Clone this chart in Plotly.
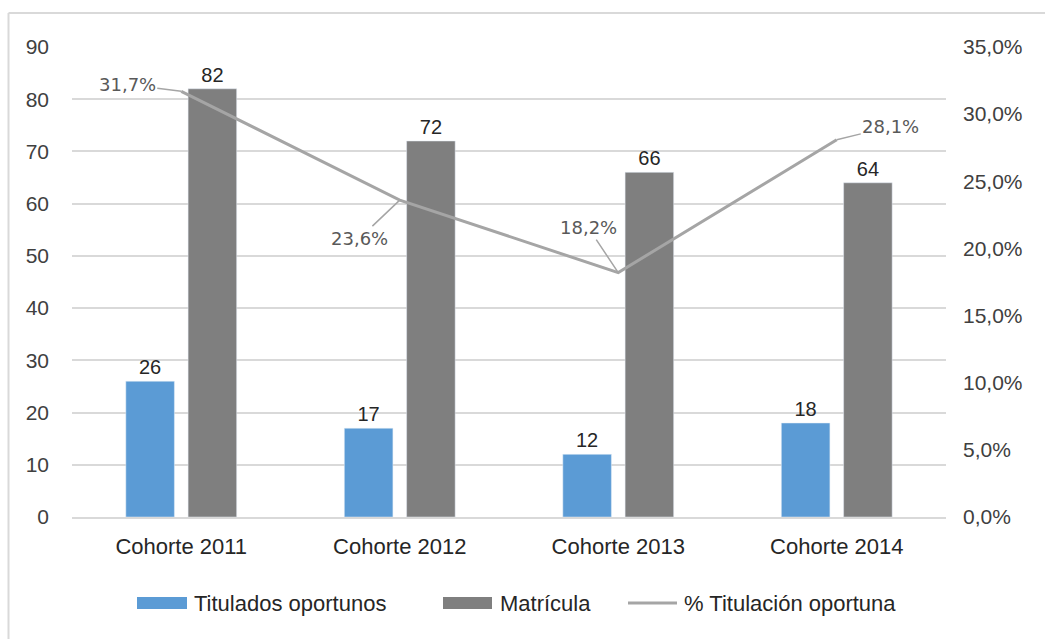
import plotly.graph_objects as go

# Data
categorias = ["Cohorte 2011", "Cohorte 2012", "Cohorte 2013", "Cohorte 2014"]
titulados = [26, 17, 12, 18]
matricula = [82, 72, 66, 64]
pct_titulacion = [0.317, 0.236, 0.182, 0.281]
pct_etiquetas = ["31,7%", "23,6%", "18,2%", "28,1%"]
izq_ticks = list(range(0, 100, 10))
der_ticks = [0, 0.05, 0.10, 0.15, 0.20, 0.25, 0.30, 0.35]
der_etiquetas = ["0,0%", "5,0%", "10,0%", "15,0%", "20,0%", "25,0%", "30,0%", "35,0%"]

AZUL = "#5B9BD5"
GRIS = "#7F7F7F"
LINEA = "#A5A5A5"
TXT = "#404040"
FONT = "Liberation Sans, Arial, sans-serif"

W, H = 1045, 639
L, R, T, B = 72, 99, 47, 122
pw, ph = W - L - R, H - T - B


def px_x(p):
    return (p - L) / pw


def px_y(p):
    return (H - B - p) / ph


fig = go.Figure()

fig.add_trace(go.Bar(
    x=categorias, y=titulados, name="Titulados oportunos",
    marker_color=AZUL, text=titulados, textposition="outside",
    textfont=dict(family=FONT, size=20, color="#262626"), cliponaxis=False,
))
fig.add_trace(go.Bar(
    x=categorias, y=matricula, name="Matrícula",
    marker_color=GRIS, text=matricula, textposition="outside",
    textfont=dict(family=FONT, size=20, color="#262626"), cliponaxis=False,
))
fig.add_trace(go.Scatter(
    x=categorias, y=pct_titulacion, name="% Titulación oportuna",
    mode="lines", line=dict(color=LINEA, width=3), yaxis="y2",
))

# Percentage labels with leader lines
offsets = [(-54, -7), (-40, 38), (-30, -45), (54, -13)]
annotations = []
for cat, v, lab, (ax, ay) in zip(categorias, pct_titulacion, pct_etiquetas, offsets):
    annotations.append(dict(
        x=cat, y=v, xref="x", yref="y2", text=lab, showarrow=True,
        ax=ax, ay=ay, arrowhead=0, arrowwidth=1.5, arrowcolor=LINEA,
        standoff=0, font=dict(family="DejaVu Sans", size=18, color="#595959"),
    ))

# Legend drawn as swatches + text
shapes = []
leg_items = [
    ("rect", AZUL, 137, 187, "Titulados oportunos", 192),
    ("rect", GRIS, 443, 492, "Matrícula", 498),
    ("line", LINEA, 628, 677, "% Titulación oportuna", 682),
]
ly = 603
for kind, col, x0, x1, txt, tx in leg_items:
    if kind == "rect":
        shapes.append(dict(type="rect", xref="paper", yref="paper",
                           x0=px_x(x0), x1=px_x(x1), y0=px_y(ly + 6), y1=px_y(ly - 6),
                           fillcolor=col, line=dict(width=0)))
    else:
        shapes.append(dict(type="line", xref="paper", yref="paper",
                           x0=px_x(x0), x1=px_x(x1), y0=px_y(ly), y1=px_y(ly),
                           line=dict(color=col, width=3)))
    annotations.append(dict(
        x=px_x(tx), y=px_y(ly), xref="paper", yref="paper", text=txt,
        showarrow=False, xanchor="left", yanchor="middle",
        font=dict(family=FONT, size=22, color="#262626"),
    ))

# Outer frame (left and top edges)
shapes.append(dict(type="line", xref="paper", yref="paper",
                   x0=px_x(8.5), x1=px_x(8.5), y0=px_y(13), y1=px_y(H + 5),
                   line=dict(color="#D9D9D9", width=2)))
shapes.append(dict(type="line", xref="paper", yref="paper",
                   x0=px_x(8.5), x1=px_x(W + 5), y0=px_y(13), y1=px_y(13),
                   line=dict(color="#D9D9D9", width=2)))

fig.update_layout(
    width=W, height=H,
    margin=dict(l=L, r=R, t=T, b=B),
    paper_bgcolor="white", plot_bgcolor="white",
    barmode="group", bargap=0.43, bargroupgap=0.22,
    showlegend=False,
    font=dict(family=FONT, size=18, color=TXT),
    xaxis=dict(showline=True, linecolor="#D9D9D9", linewidth=1.5, ticks="",
               ticklabelstandoff=9,
               tickfont=dict(family=FONT, size=22, color="#262626")),
    yaxis=dict(range=[0, 90], tickvals=izq_ticks, showgrid=True,
               gridcolor="#D9D9D9", gridwidth=1.5, zeroline=False, ticks="",
               ticklabelstandoff=22,
               tickfont=dict(family=FONT, size=21, color=TXT)),
    yaxis2=dict(range=[0, 0.35], overlaying="y", side="right",
                tickvals=der_ticks, ticktext=der_etiquetas, showgrid=False,
                zeroline=False, ticks="", ticklabelstandoff=16,
                tickfont=dict(family=FONT, size=21, color=TXT)),
    annotations=annotations,
    shapes=shapes,
)

fig.write_html("out.html")
